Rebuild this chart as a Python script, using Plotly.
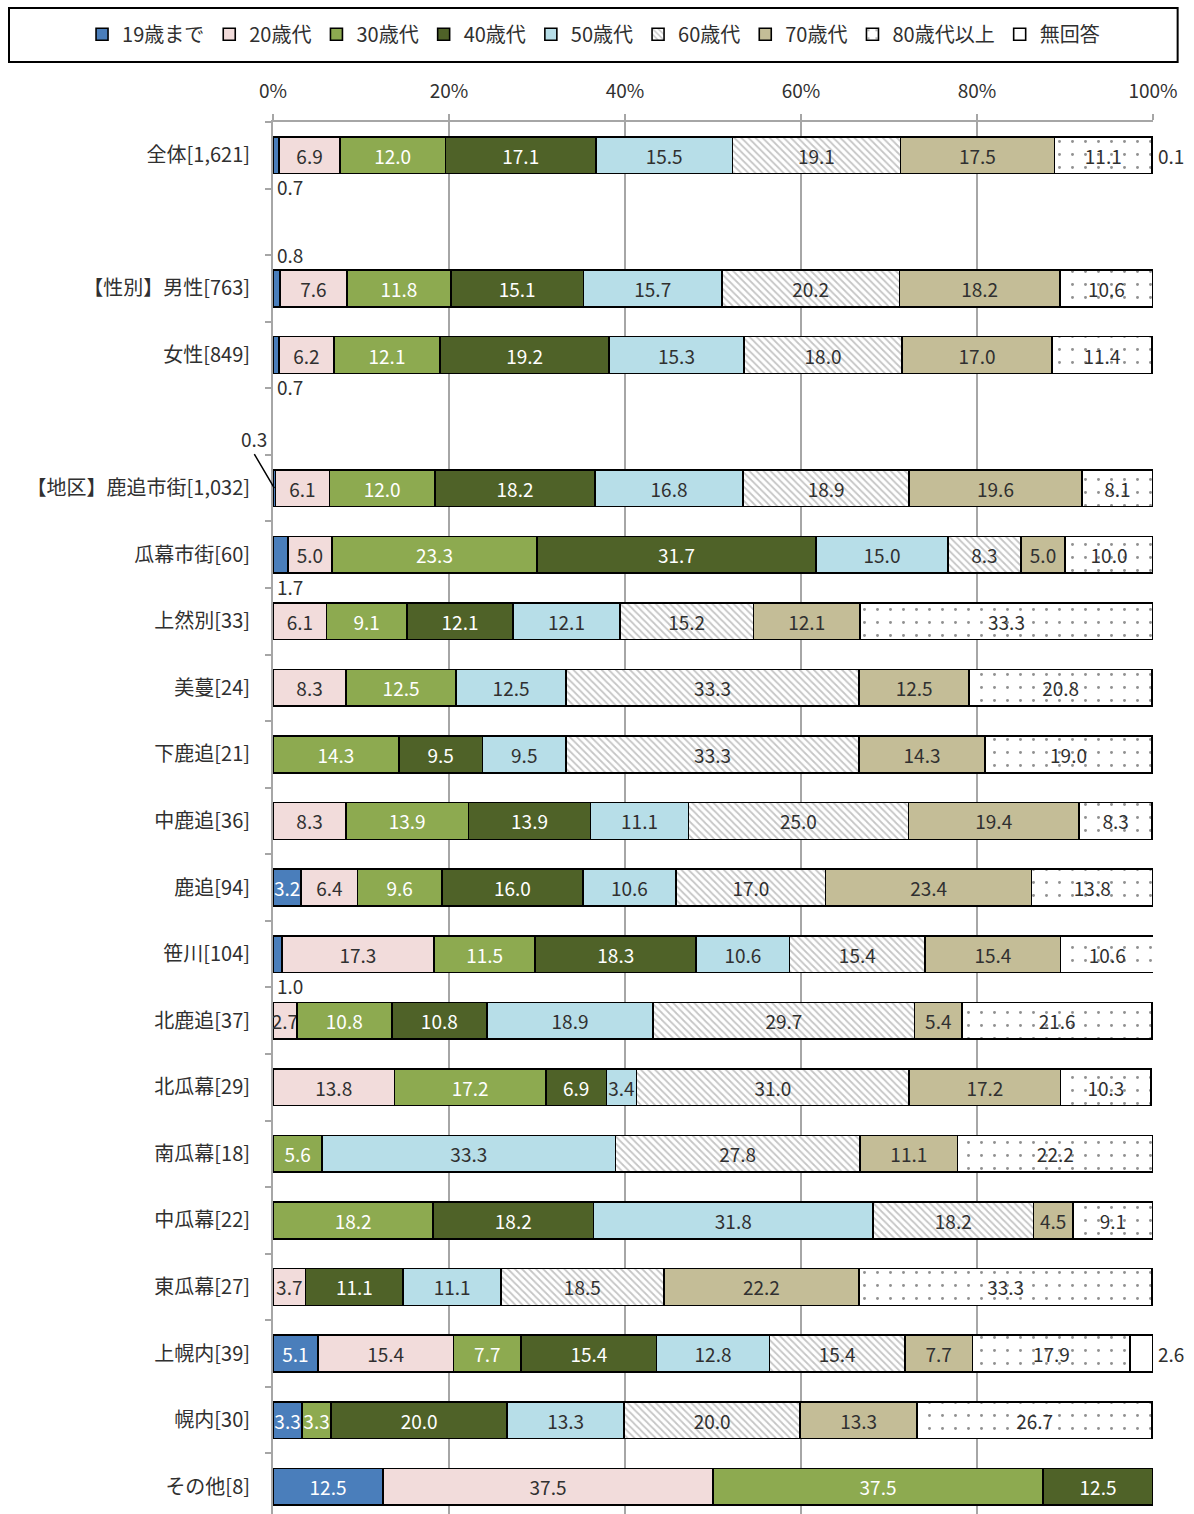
import plotly.graph_objects as go

categories = ["全体[1,621]", "【性別】男性[763]", "女性[849]", "【地区】鹿追市街[1,032]", "瓜幕市街[60]",
              "上然別[33]", "美蔓[24]", "下鹿追[21]", "中鹿追[36]", "鹿追[94]", "笹川[104]", "北鹿追[37]",
              "北瓜幕[29]", "南瓜幕[18]", "中瓜幕[22]", "東瓜幕[27]", "上幌内[39]", "幌内[30]", "その他[8]"]
series_names = ["19歳まで", "20歳代", "30歳代", "40歳代", "50歳代", "60歳代", "70歳代", "80歳代以上", "無回答"]

age_19 = [0.7, 0.8, 0.7, 0.3, 1.7, 0, 0, 0, 0, 3.2, 1.0, 0, 0, 0, 0, 0, 5.1, 3.3, 12.5]
age_20 = [6.9, 7.6, 6.2, 6.1, 5.0, 6.1, 8.3, 0, 8.3, 6.4, 17.3, 2.7, 13.8, 0, 0, 3.7, 15.4, 0, 37.5]
age_30 = [12.0, 11.8, 12.1, 12.0, 23.3, 9.1, 12.5, 14.3, 13.9, 9.6, 11.5, 10.8, 17.2, 5.6, 18.2, 0, 7.7, 3.3, 37.5]
age_40 = [17.1, 15.1, 19.2, 18.2, 31.7, 12.1, 0, 9.5, 13.9, 16.0, 18.3, 10.8, 6.9, 0, 18.2, 11.1, 15.4, 20.0, 12.5]
age_50 = [15.5, 15.7, 15.3, 16.8, 15.0, 12.1, 12.5, 9.5, 11.1, 10.6, 10.6, 18.9, 3.4, 33.3, 31.8, 11.1, 12.8, 13.3, 0]
age_60 = [19.1, 20.2, 18.0, 18.9, 8.3, 15.2, 33.3, 33.3, 25.0, 17.0, 15.4, 29.7, 31.0, 27.8, 18.2, 18.5, 15.4, 20.0, 0]
age_70 = [17.5, 18.2, 17.0, 19.6, 5.0, 12.1, 12.5, 14.3, 19.4, 23.4, 15.4, 5.4, 17.2, 11.1, 4.5, 22.2, 7.7, 13.3, 0]
age_80 = [11.1, 10.6, 11.4, 8.1, 10.0, 33.3, 20.8, 19.0, 8.3, 13.8, 10.6, 21.6, 10.3, 22.2, 9.1, 33.3, 17.9, 26.7, 0]
no_ans = [0.1, 0, 0, 0, 0, 0, 0, 0, 0, 0, 0, 0, 0, 0, 0, 0, 2.6, 0, 0]
x_ticks = [0, 20, 40, 60, 80, 100]
x_tick_labels = ["0%", "20%", "40%", "60%", "80%", "100%"]

values = [age_19, age_20, age_30, age_40, age_50, age_60, age_70, age_80, no_ans]

# blank slot after these category indices
gap_after = {0, 2}
pos = []
p = 0
for i in range(len(categories)):
    pos.append(p)
    p += 2 if i in gap_after else 1

colors = ["#4A7EBB", "#F2DCDB", "#8DAA50", "#4F6228", "#B7DEE8", "#FFFFFF", "#C4BD97", "#FFFFFF", "#FFFFFF"]
text_colors = ["white", "#303030", "white", "white", "#303030", "#303030", "#303030", "#303030", "#303030"]
patterns = [None, None, None, None, None,
            dict(shape="\\", fgcolor="#8C8C8C", bgcolor="white", size=5, solidity=0.35),
            None,
            dict(shape=".", fgcolor="#222222", bgcolor="white", size=13, solidity=0.04),
            None]

FONT = "Noto Sans CJK JP"
fig = go.Figure()
for k, name in enumerate(series_names):
    vals = values[k]
    texts = [f"{v:.1f}" if (v >= 2 and k < 8) else "" for v in vals]
    marker = dict(color=colors[k], line=dict(color="#000000", width=1.6))
    if patterns[k]:
        marker["pattern"] = patterns[k]
    fig.add_trace(go.Bar(
        name=name, y=pos, x=vals, orientation="h", width=0.55,
        marker=marker, text=texts, textposition="inside", insidetextanchor="middle",
        textangle=0, constraintext="none",
        textfont=dict(family=FONT, size=19, color=text_colors[k]),
        hoverinfo="skip",
    ))

# small-value labels outside bars
ann_font = dict(family=FONT, size=19, color="#303030")
place_19 = {0: "below", 1: "above", 2: "below", 3: "leader", 4: "below", 10: "below"}
for i, v in enumerate(age_19):
    if 0 < v < 2:
        side = place_19.get(i, "below")
        if side == "below":
            fig.add_annotation(x=0, y=pos[i] + 0.24, text=f"{v:.1f}", xanchor="left", yanchor="top",
                               showarrow=False, font=ann_font, xshift=2)
        elif side == "above":
            fig.add_annotation(x=0, y=pos[i] - 0.28, text=f"{v:.1f}", xanchor="left", yanchor="bottom",
                               showarrow=False, font=ann_font, xshift=2)
        else:
            fig.add_annotation(x=v / 2, y=pos[i], text=f"{v:.1f}", showarrow=True, arrowhead=0,
                               arrowwidth=1.5, arrowcolor="#000000", ax=-20, ay=-34,
                               xanchor="center", yanchor="bottom", font=ann_font, standoff=0)
for i, v in enumerate(no_ans):
    if v > 0:
        fig.add_annotation(x=100, y=pos[i], text=f"{v:.1f}", xanchor="left", yanchor="middle",
                           showarrow=False, font=ann_font, xshift=3)

# legend frame
fig.add_shape(type="rect", xref="paper", yref="paper", x0=-0.30, x1=1.028, y0=1.0431, y1=1.0819,
              line=dict(color="#000000", width=2), fillcolor="rgba(0,0,0,0)")

fig.update_layout(
    width=1194, height=1514,
    margin=dict(l=273, r=41, t=122, b=0),
    barmode="stack",
    plot_bgcolor="white", paper_bgcolor="white",
    font=dict(family=FONT, size=19, color="#303030"),
    uniformtext=dict(minsize=19, mode="show"),
    showlegend=True,
    legend=dict(orientation="h", x=-0.217, xanchor="left", y=1.063, yanchor="middle",
                font=dict(family=FONT, size=20, color="#303030"), traceorder="normal",
                itemwidth=30, bgcolor="rgba(0,0,0,0)"),
    xaxis=dict(side="top", range=[0, 100], tickvals=x_ticks, ticktext=x_tick_labels,
               showgrid=True, gridcolor="#A6A6A6", gridwidth=2, showline=True, linecolor="#A6A6A6",
               linewidth=2, ticks="outside", ticklen=6, tickcolor="#A6A6A6", tickwidth=2,
               zeroline=False, fixedrange=True, ticklabelstandoff=8,
               tickfont=dict(family=FONT, size=19, color="#303030")),
    yaxis=dict(range=[pos[-1] + 0.41, -0.5], tickvals=pos, ticktext=categories, ticks="",
               showgrid=False, zeroline=False, showline=True, linecolor="#A6A6A6", linewidth=2,
               ticklabelstandoff=17,
               minor=dict(tickvals=[b + 0.5 for b in range(-1, pos[-1] + 1)], ticks="outside",
                          ticklen=6, tickcolor="#A6A6A6", tickwidth=2),
               tickfont=dict(family=FONT, size=20, color="#303030")),
)

fig.write_html("out.html", config={"displayModeBar": False},
               post_script="document.body.style.margin='0';")
